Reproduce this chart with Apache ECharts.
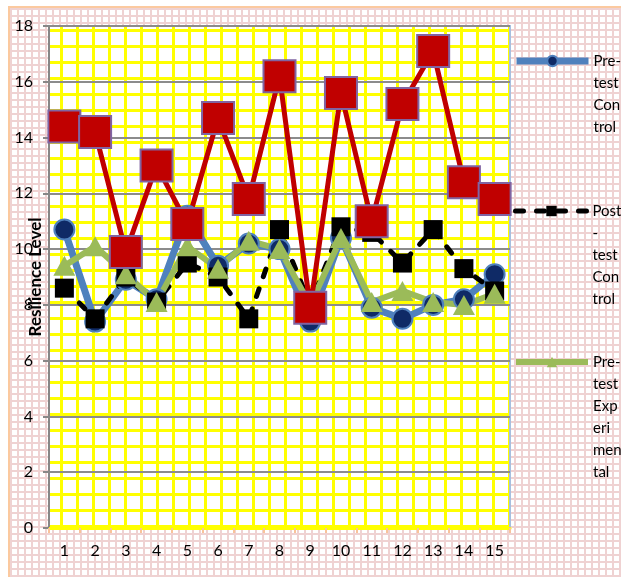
<!DOCTYPE html>
<html>
<head>
<meta charset="utf-8">
<script src="https://cdn.jsdelivr.net/npm/echarts@6/dist/echarts.min.js"></script>
<style>
    html, body {
        margin: 0;
        padding: 0;
        background: #fff;
    }
    .wrap {
        position: relative;
        width: 621px;
        height: 577px;
        overflow: hidden;
    }
    /* pink graph-paper panel with the orange frame */
    .panel {
        position: absolute;
        left: 8px;
        top: 6px;
        width: 640px;
        height: 600px;
        border-left: 2px solid #fbc99f;
        border-top: 2px solid #fbc99f;
        background-color: #fff;
        background-image:
            linear-gradient(to right, #efd2d2 2px, transparent 2px),
            linear-gradient(to bottom, #efd2d2 2px, transparent 2px);
        background-size: 7px 7px;
    }
    #chart {
        position: absolute;
        left: 0;
        top: 0;
        width: 621px;
        height: 577px;
    }
</style>
</head>
<body>
<div class="wrap">
    <div class="panel"></div>
    <div id="chart"></div>
</div>
<script>
    var categories = ['1', '2', '3', '4', '5', '6', '7', '8', '9', '10', '11', '12', '13', '14', '15'];
    var seriesNames = ['Pre-test Control', 'Post-test Control', 'Pre-test Experimental', 'Post-test Experimental'];
    // legend text is wrapped in the narrow legend column
    var legendLabels = ['Pre-\ntest\nCon\ntrol', 'Post\n-\ntest\nCon\ntrol', 'Pre-\ntest\nExp\neri\nmen\ntal'];

    var preControl = [10.7, 7.4, 8.9, 8.2, 11.2, 9.4, 10.2, 10.0, 7.4, 10.4, 7.9, 7.5, 8.0, 8.2, 9.1];
    var postControl = [8.6, 7.5, 9.0, 8.1, 9.5, 9.0, 7.5, 10.7, 8.0, 10.8, 10.6, 9.5, 10.7, 9.3, 8.5];
    var preExperimental = [9.4, 10.1, 9.1, 8.1, 10.1, 9.3, 10.3, 10.0, 8.0, 10.4, 8.1, 8.5, 8.1, 8.0, 8.4];
    var postExperimental = [14.4, 14.2, 9.9, 13.0, 10.9, 14.7, 11.8, 16.2, 7.9, 15.6, 11.0, 15.2, 17.1, 12.4, 11.8];

    var yMin = 0;
    var yMax = 18;
    var yStep = 2;

    var font = 'Lato, "Open Sans", sans-serif';

    // yellow squared pattern of the plot area
    var cell = document.createElement('canvas');
    cell.width = 16;
    cell.height = 16;
    var ctx = cell.getContext('2d');
    ctx.fillStyle = '#ffffff';
    ctx.fillRect(0, 0, 16, 16);
    ctx.fillStyle = '#ffff00';
    ctx.fillRect(12, 0, 3, 16);
    ctx.fillRect(0, 13, 16, 3);

    var legendCenters = [61, 211, 362];
    var lineHeight = 22;

    var legends = [];
    for (var i = 0; i < legendLabels.length; i++) {
        var n = legendLabels[i].split('\n').length;
        // blank lines in front so the first real line is the middle of the block,
        // which is where the icon is drawn
        var label = new Array(n).join('\n') + legendLabels[i];
        legends.push({
            orient: 'vertical',
            left: 513,
            top: legendCenters[i] - (2 * n - 1) * lineHeight / 2,
            padding: 0,
            itemWidth: 72,
            itemHeight: 13,
            selectedMode: false,
            data: [seriesNames[i]],
            formatter: (function (text) {
                return function () {
                    return text;
                };
            })(label),
            lineStyle: {
                width: 'inherit'
            },
            textStyle: {
                color: '#000',
                fontSize: 15,
                fontFamily: font,
                lineHeight: lineHeight
            }
        });
    }

    var option = {
        animation: false,
        backgroundColor: 'transparent',
        grid: {
            left: 49,
            right: 111,
            top: 26,
            bottom: 49,
            outerBoundsMode: 'none',
            show: true,
            backgroundColor: {
                image: cell,
                repeat: 'repeat'
            },
            borderColor: '#a7bfdf',
            borderWidth: 2
        },
        legend: legends,
        xAxis: {
            type: 'category',
            data: categories,
            axisLine: {
                lineStyle: {
                    color: '#ffff00',
                    width: 3
                }
            },
            axisTick: {
                show: true,
                length: 5,
                lineStyle: {
                    color: '#f9c39a',
                    width: 2
                }
            },
            axisLabel: {
                color: '#000',
                fontSize: 16,
                fontFamily: font,
                margin: 15
            },
            splitLine: {
                show: false
            }
        },
        yAxis: {
            type: 'value',
            min: yMin,
            max: yMax,
            interval: yStep,
            name: 'Resilience Level',
            nameLocation: 'middle',
            nameGap: 5,
            nameMoveOverlap: false,
            nameTextStyle: {
                color: '#000',
                fontSize: 17,
                fontWeight: 'bold',
                fontFamily: font,
                padding: [0, 0, 0, 0]
            },
            axisLine: {
                show: true,
                lineStyle: {
                    color: '#878787',
                    width: 2
                }
            },
            axisTick: {
                show: true,
                length: 6,
                lineStyle: {
                    color: '#878787',
                    width: 2
                }
            },
            axisLabel: {
                color: '#000',
                fontSize: 16,
                fontFamily: font,
                margin: 16
            },
            splitLine: {
                lineStyle: {
                    color: '#8c8c8c',
                    width: 2
                }
            }
        },
        series: [
            {
                name: seriesNames[0],
                type: 'line',
                data: preControl,
                symbol: 'circle',
                symbolSize: 20,
                lineStyle: {
                    color: '#4f81bd',
                    width: 7
                },
                itemStyle: {
                    color: '#0f2a66',
                    borderColor: '#4f81bd',
                    borderWidth: 2
                }
            },
            {
                name: seriesNames[1],
                type: 'line',
                data: postControl,
                symbol: 'rect',
                symbolSize: 19,
                lineStyle: {
                    color: '#000',
                    width: 5,
                    type: [8, 13],
                    cap: 'round'
                },
                itemStyle: {
                    color: '#000'
                }
            },
            {
                name: seriesNames[2],
                type: 'line',
                data: preExperimental,
                symbol: 'triangle',
                symbolSize: [22, 20],
                lineStyle: {
                    color: '#9bbb59',
                    width: 6
                },
                itemStyle: {
                    color: '#9bbb59'
                }
            },
            {
                name: seriesNames[3],
                type: 'line',
                data: postExperimental,
                symbol: 'rect',
                symbolSize: 32,
                lineStyle: {
                    color: '#c00000',
                    width: 5
                },
                itemStyle: {
                    color: '#c00000',
                    borderColor: '#8064a2',
                    borderWidth: 2
                }
            }
        ]
    };

    var chart = echarts.init(document.getElementById('chart'));
    chart.setOption(option);
</script>
</body>
</html>
